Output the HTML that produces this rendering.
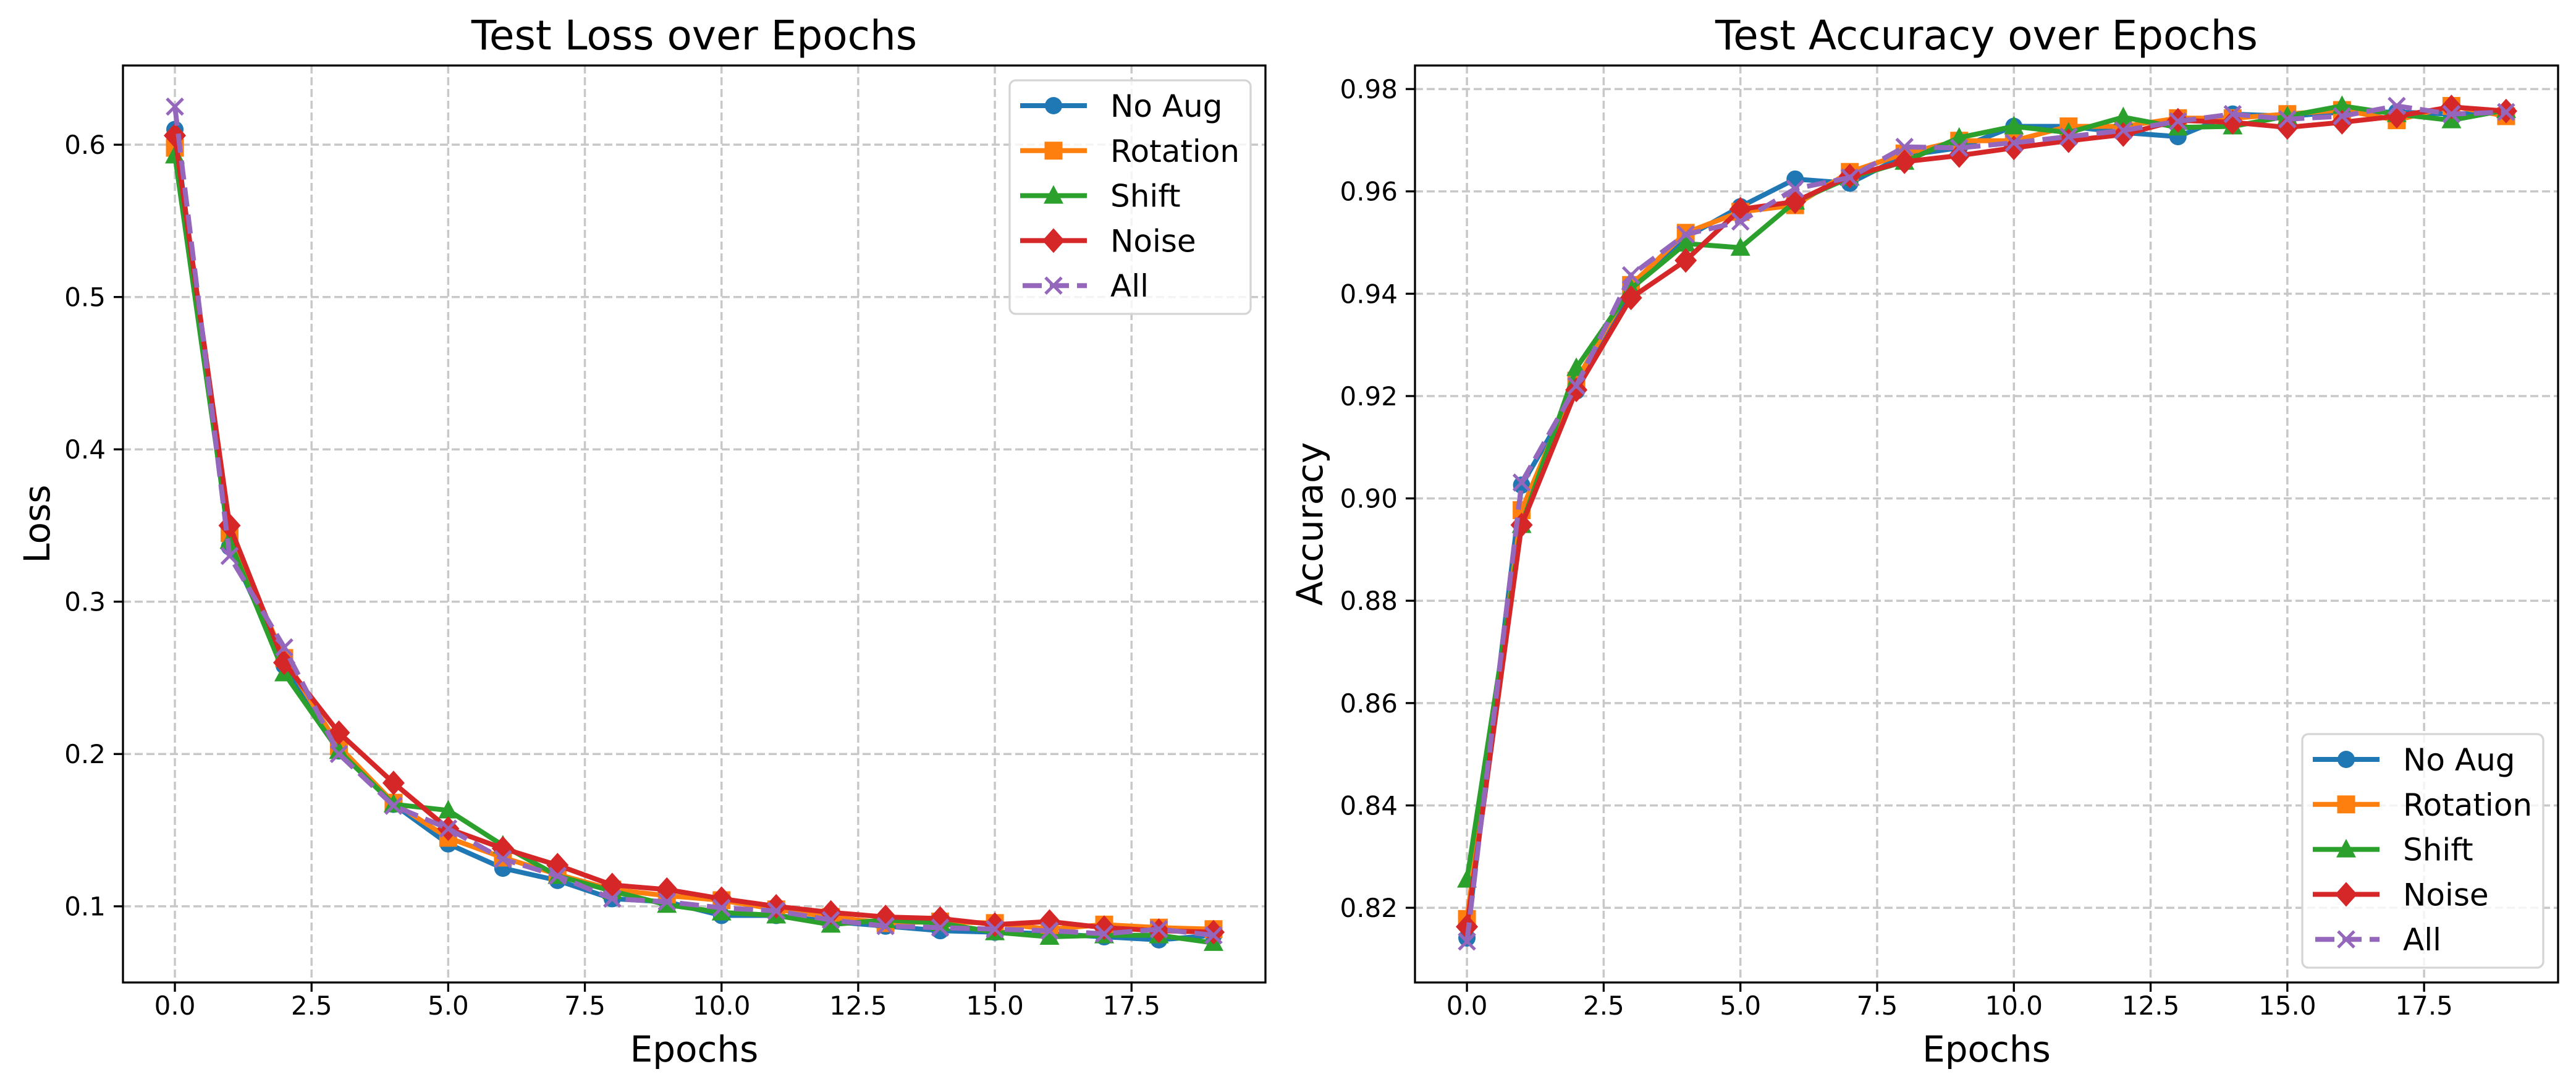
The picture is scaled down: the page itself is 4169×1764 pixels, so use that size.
<!DOCTYPE html>
<html><head><meta charset="utf-8">
<style>
html,body{margin:0;padding:0;background:#fff;}
svg{display:block;font-family:"DejaVu Sans","Liberation Sans",sans-serif;}
</style></head>
<body>
<svg id="fig" width="4169" height="1764" viewBox="0 0 4169 1764" xmlns="http://www.w3.org/2000/svg">
<rect width="4169" height="1764" fill="#fff"/>
</svg>
<script>
const epochs = [0,1,2,3,4,5,6,7,8,9,10,11,12,13,14,15,16,17,18,19];
const seriesNames = ["No Aug","Rotation","Shift","Noise","All"];
const lossNoAug = [0.610,0.336,0.258,0.202,0.167,0.141,0.125,0.117,0.105,0.103,0.094,0.094,0.090,0.087,0.084,0.083,0.082,0.080,0.078,0.081];
const lossRotation = [0.598,0.345,0.263,0.205,0.168,0.145,0.132,0.121,0.111,0.107,0.104,0.098,0.093,0.089,0.090,0.089,0.085,0.088,0.086,0.085];
const lossShift = [0.593,0.340,0.253,0.202,0.167,0.163,0.140,0.120,0.110,0.101,0.096,0.094,0.088,0.091,0.089,0.083,0.080,0.081,0.081,0.076];
const lossNoise = [0.606,0.350,0.260,0.214,0.181,0.151,0.138,0.127,0.114,0.111,0.105,0.100,0.096,0.093,0.092,0.088,0.090,0.086,0.084,0.083];
const lossAll = [0.625,0.330,0.270,0.200,0.166,0.151,0.131,0.120,0.105,0.103,0.099,0.097,0.091,0.087,0.086,0.085,0.084,0.082,0.085,0.081];
const accNoAug = [0.8141,0.9026,0.9210,0.9410,0.9510,0.9570,0.9624,0.9616,0.9670,0.9685,0.9727,0.9727,0.9715,0.9707,0.9751,0.9747,0.9755,0.9755,0.9751,0.9755];
const accRotation = [0.8178,0.8977,0.9230,0.9417,0.9519,0.9560,0.9573,0.9638,0.9674,0.9699,0.9699,0.9727,0.9727,0.9743,0.9743,0.9751,0.9759,0.9739,0.9767,0.9747];
const accShift = [0.8255,0.8948,0.9255,0.9410,0.9498,0.9490,0.9580,0.9627,0.9658,0.9705,0.9727,0.9715,0.9745,0.9725,0.9727,0.9747,0.9767,0.9751,0.9739,0.9759];
const accNoise = [0.8163,0.8948,0.9212,0.9392,0.9465,0.9565,0.9580,0.9630,0.9658,0.9670,0.9685,0.9699,0.9711,0.9739,0.9735,0.9725,0.9735,0.9747,0.9765,0.9757];
const accAll = [0.8134,0.9031,0.9220,0.9436,0.9516,0.9541,0.9605,0.9627,0.9687,0.9685,0.9695,0.9707,0.9719,0.9737,0.9751,0.9741,0.9747,0.9767,0.9751,0.9755];
const xTicks = [0,2.5,5,7.5,10,12.5,15,17.5];
const xTickLabels = ["0.0","2.5","5.0","7.5","10.0","12.5","15.0","17.5"];
const lossTicks = [0.1,0.2,0.3,0.4,0.5,0.6];
const lossTickLabels = ["0.1","0.2","0.3","0.4","0.5","0.6"];
const accTicks = [0.82,0.84,0.86,0.88,0.90,0.92,0.94,0.96,0.98];
const accTickLabels = ["0.82","0.84","0.86","0.88","0.90","0.92","0.94","0.96","0.98"];

const NS="http://www.w3.org/2000/svg";
const fig=document.getElementById('fig');
const colors=["#1f77b4","#ff7f0e","#2ca02c","#d62728","#9467bd"];
const markers=["o","s","^","D","x"];
function mk(tag,attrs,parent){const e=document.createElementNS(NS,tag);for(const k in attrs)e.setAttribute(k,attrs[k]);(parent||fig).appendChild(e);return e;}
function marker(g,type,cx,cy,color){
  let e;
  if(type==="o"){e=mk('circle',{cx:cx,cy:cy,r:14,fill:color},g);}
  else if(type==="s"){e=mk('rect',{x:cx-14.5,y:cy-14.5,width:29,height:29,fill:color},g);}
  else if(type==="^"){e=mk('polygon',{points:`${cx},${cy-17} ${cx-16},${cy+13} ${cx+16},${cy+13}`,fill:color},g);}
  else if(type==="D"){e=mk('polygon',{points:`${cx},${cy-20} ${cx+18},${cy} ${cx},${cy+20} ${cx-18},${cy}`,fill:color},g);}
  else {e=mk('path',{d:`M${cx-13},${cy-13}L${cx+13},${cy+13}M${cx-13},${cy+13}L${cx+13},${cy-13}`,stroke:color,'stroke-width':5,fill:'none'},g);}
  
  
  return e;
}
function drawChart(opt){
  const {L,R,T,B,xmin,xmax,ymin,ymax,yTicks,yLabels,series,title,ylabel,legendPos,id}=opt;
  const g=mk('g',{});
  
  
  const sx=v=>L+(v-xmin)/(xmax-xmin)*(R-L);
  const sy=v=>B-(v-ymin)/(ymax-ymin)*(B-T);
  // grid
  const grid=mk('g',{stroke:'#c8c8c8','stroke-width':3.5,'stroke-dasharray':'13 6'},g);
  
  
  xTicks.forEach(t=>mk('line',{x1:sx(t),x2:sx(t),y1:T,y2:B},grid));
  yTicks.forEach(t=>mk('line',{x1:L,x2:R,y1:sy(t),y2:sy(t)},grid));
  // series
  series.forEach((vals,i)=>{
    const sg=mk('g',{},g);
    
    
    const pts=vals.map((v,j)=>sx(epochs[j])+','+sy(v)).join(' ');
    const pl=mk('polyline',{points:pts,fill:'none',stroke:colors[i],'stroke-width':8,'stroke-linejoin':'round'},sg);
    if(i===4){pl.setAttribute('stroke-dasharray','31 13');}
    
    
    vals.forEach((v,j)=>marker(sg,markers[i],sx(epochs[j]),sy(v),colors[i]));
  });
  // axes frame
  const fr=mk('rect',{x:L,y:T,width:R-L,height:B-T,fill:'none',stroke:'#000','stroke-width':3.3},g);
  
  
  // ticks
  xTicks.forEach((t,k)=>{
    mk('line',{x1:sx(t),x2:sx(t),y1:B,y2:B+15,stroke:'#000','stroke-width':3.3},g);
    const tx=mk('text',{x:sx(t),y:B+52,'font-size':42,'text-anchor':'middle',fill:'#000'},g);
    tx.textContent=xTickLabels[k];
    
    
  });
  yTicks.forEach((t,k)=>{
    mk('line',{x1:L-15,x2:L,y1:sy(t),y2:sy(t),stroke:'#000','stroke-width':3.3},g);
    const tx=mk('text',{x:L-28,y:sy(t)+15,'font-size':42,'text-anchor':'end',fill:'#000'},g);
    tx.textContent=yLabels[k];
    
    
  });
  const tt=mk('text',{x:(L+R)/2,y:80,'font-size':66,'text-anchor':'middle',fill:'#000'},g);
  tt.textContent=title;
  
  
  const xl=mk('text',{x:(L+R)/2,y:1718,'font-size':58,'text-anchor':'middle',fill:'#000'},g);
  xl.textContent='Epochs';
  
  
  const yx=opt.ylabelX, yy=(T+B)/2;
  const yl=mk('text',{x:yx,y:yy,'font-size':58,'text-anchor':'middle',fill:'#000',transform:`rotate(-90 ${yx} ${yy})`},g);
  yl.textContent=ylabel;
  
  
  // legend
  const lg=mk('g',{},g);
  
  
  const lx=legendPos[0], ly=legendPos[1];
  mk('rect',{x:lx,y:ly,width:390,height:378,rx:10,fill:'#fff','fill-opacity':0.8,stroke:'#d5d5d5','stroke-width':3.3},lg);
  seriesNames.forEach((n,i)=>{
    const ey=ly+41+i*72.8;
    const en=mk('g',{},lg);
    
    
    const ln=mk('line',{x1:lx+17,x2:lx+125,y1:ey,y2:ey,stroke:colors[i],'stroke-width':8},en);
    if(i===4){ln.setAttribute('stroke-dasharray','31 13');ln.setAttribute('x1',lx+21);}
    marker(en,markers[i],lx+71,ey,colors[i]);
    const t=mk('text',{x:lx+163,y:ey+18,'font-size':50,fill:'#000'},en);
    t.textContent=n;
  });
}
drawChart({id:'loss',L:199,R:2048,T:106,B:1590,xmin:-0.95,xmax:19.95,ymin:0.0500,ymax:0.6520,
  yTicks:lossTicks,yLabels:lossTickLabels,series:[lossNoAug,lossRotation,lossShift,lossNoise,lossAll],
  title:'Test Loss over Epochs',ylabel:'Loss',ylabelX:80,legendPos:[1634,130]});
drawChart({id:'accuracy',L:2290,R:4140,T:106,B:1590,xmin:-0.95,xmax:19.95,ymin:0.8054,ymax:0.9846,
  yTicks:accTicks,yLabels:accTickLabels,series:[accNoAug,accRotation,accShift,accNoise,accAll],
  title:'Test Accuracy over Epochs',ylabel:'Accuracy',ylabelX:2140,legendPos:[3726,1188]});
</script>
</body></html>
